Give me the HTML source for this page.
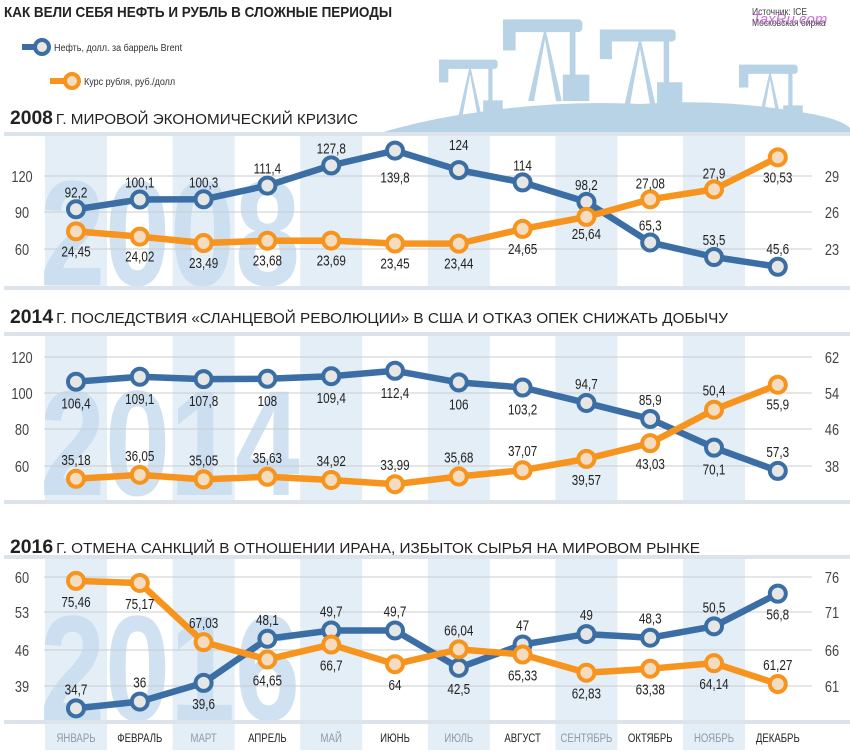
<!DOCTYPE html>
<html><head><meta charset="utf-8"><style>
body{margin:0;background:#fff;}
svg{display:block;font-family:"Liberation Sans",sans-serif;}
</style></head><body>
<svg id="s" width="850" height="756" viewBox="0 0 850 756" xmlns="http://www.w3.org/2000/svg"></svg>
<script>
const S=document.getElementById('s');let h='';
const X=i=>76+i*63.8;
function T(x,y,txt,size,fill,anchor,sx,extra){return `<text transform="translate(${x},${y}) scale(${sx},1)" font-size="${size}" fill="${fill}" text-anchor="${anchor}" ${extra||''}>${txt}</text>`}
h+='<path d="M380 133 Q430 118 480 112 Q560 100 640 104 Q720 98 800 112 Q840 118 850 128 L850 133Z" fill="#b9d3e6"/>';
function der(x,y,s){return `<g transform="translate(${x},${y}) scale(${s})" fill="#b9d3e6" stroke="#b9d3e6"><rect x="-30" y="0" width="62" height="10" rx="3"/><rect x="-36" y="0" width="10" height="26"/><polygon points="0,8 -14,70 -10,70 0,14 10,70 14,70" /><rect x="22" y="10" width="4" height="40"/><rect x="16" y="48" width="22" height="22"/></g>`}
h+=der(470,60,0.85)+der(545,20,1.15)+der(640,30,1.1)+der(770,65,0.85);
function col(y1,y2){let r='';for(let i=0;i<12;i+=2)r+=`<rect x="${X(i)-31}" y="${y1}" width="62" height="${y2-y1}" fill="#e4eef6"/>`;return r;}
h+=col(136,290)+col(336,502)+col(558,750);
function yr(t,y){return `<text x="40" y="${y}" font-size="150" font-weight="bold" fill="#c8ddef" opacity="0.85" textLength="260" lengthAdjust="spacingAndGlyphs">${t}</text>`}
h+=yr('2008',285)+yr('2014',495)+yr('2016',720);
h+='<text x="4" y="17" font-size="15" font-weight="bold" fill="#222" textLength="388" lengthAdjust="spacingAndGlyphs">КАК ВЕЛИ СЕБЯ НЕФТЬ И РУБЛЬ В СЛОЖНЫЕ ПЕРИОДЫ</text>';
h+=T(752,15,'Источник: ICE',10,'#444','start',0.85)+T(752,26,'Московская биржа',10,'#444','start',0.85);
h+='<text x="752" y="24" font-size="15" fill="#c050d0" opacity="0.8" font-style="italic">TaxRu.com</text>';
h+='<line x1="22" y1="47" x2="40" y2="47" stroke="#3a6ea5" stroke-width="6"/><circle cx="42" cy="47" r="7" fill="#ece6de" stroke="#3a6ea5" stroke-width="4"/>'+T(54,51,'Нефть, долл. за баррель Brent',10,'#333','start',0.9);
h+='<line x1="50" y1="81" x2="70" y2="81" stroke="#f7941d" stroke-width="6"/><circle cx="72" cy="81" r="7" fill="#f3dcbf" stroke="#f7941d" stroke-width="4"/>'+T(84,85,'Курс рубля, руб./долл',10,'#333','start',0.9);
function title(y,a,b,w){return `<text x="10" y="${y}" font-size="19" font-weight="bold" fill="#222" textLength="${w}" lengthAdjust="spacingAndGlyphs">${a}<tspan font-size="15" font-weight="normal" dx="3">${b}</tspan></text>`}
h+=title(124,'2008','Г. МИРОВОЙ ЭКОНОМИЧЕСКИЙ КРИЗИС',348);
h+=title(323,'2014','Г. ПОСЛЕДСТВИЯ «СЛАНЦЕВОЙ РЕВОЛЮЦИИ» В США И ОТКАЗ ОПЕК СНИЖАТЬ ДОБЫЧУ',718);
h+=title(553,'2016','Г. ОТМЕНА САНКЦИЙ В ОТНОШЕНИИ ИРАНА, ИЗБЫТОК СЫРЬЯ НА МИРОВОМ РЫНКЕ',690);
const hl=y=>`<rect x="4" y="${y-2}" width="846" height="4" fill="#dde3ea"/>`;
h+=hl(134)+hl(288)+hl(334)+hl(502)+hl(557)+hl(722);
function grid(ys,ll,rl){let r='';ys.forEach((y,i)=>{r+=`<line x1="44" y1="${y}" x2="812" y2="${y}" stroke="#c9ccd0" stroke-width="1"/>`;r+=T(22,y+6,ll[i],16,'#444','middle',0.8)+T(832,y+6,rl[i],16,'#444','middle',0.8)});return r;}
h+=grid([176,212,249],[120,90,60],[29,26,23]);
h+=grid([357,393,429,466],[120,100,80,60],[62,54,46,38]);
h+=grid([577,612,650,686],[60,53,46,39],[76,71,66,61]);
function series(vals,f,c,fill){let p=vals.map((v,i)=>[X(i),f(v)]);let r=`<polyline points="${p.map(q=>q.join(',')).join(' ')}" fill="none" stroke="${c}" stroke-width="6.5" stroke-linejoin="round"/>`;
p.forEach(q=>{r+=`<circle cx="${q[0]}" cy="${q[1]}" r="8" fill="${fill}" stroke="${c}" stroke-width="4"/>`});return [r,p];}
function labels(vals,p,offs){let r='';vals.forEach((v,i)=>{r+=T(p[i][0],p[i][1]+offs[i]+6,String(v).replace('.',','),15,'#222','middle',0.78)});return r;}
const B='#3a6ea5',O='#f7941d',BF='#e6e6e4',OF='#f3dcbf';
let sets=[
 [[92.2,100.1,100.3,111.4,127.8,139.8,124,114,98.2,65.3,53.5,45.6],v=>249-(v-60)*37/30,[-18,-18,-18,-18,-18,26,-26,-18,-18,-18,-18,-19],
  [24.45,24.02,23.49,23.68,23.69,23.45,23.44,24.65,25.64,27.08,27.9,30.53],v=>249-(v-23)*12.17,[19,19,19,19,19,19,19,19,16,-17,-17,19]],
 [[106.4,109.1,107.8,108,109.4,112.4,106,103.2,94.7,85.9,70.1,57.3],v=>466-(v-60)*1.817,[21,21,21,21,21,21,21,21,-20,-20,21,-20],
  [35.18,36.05,35.05,35.63,34.92,33.99,35.68,37.07,39.57,43.03,50.4,55.9],v=>466-(v-38)*4.54,[-20,-20,-20,-20,-20,-20,-20,-20,20,20,-20,19]],
 [[34.7,36,39.6,48.1,49.7,49.7,42.5,47,49,48.3,50.5,56.8],v=>686-(v-39)*5.19,[-20,-20,20,-20,-20,-20,20,-20,-20,-20,-20,20],
  [75.46,75.17,67.03,64.65,66.7,64,66.04,65.33,62.83,63.38,64.14,61.27],v=>686-(v-61)*7.27,[20,20,-20,20,20,20,-20,20,20,20,20,-20]]
];
sets.forEach(s=>{let a=series(s[0],s[1],B,BF),b=series(s[3],s[4],O,OF);h+=a[0]+b[0]+labels(s[0],a[1],s[2])+labels(s[3],b[1],s[5]);});
const M=['ЯНВАРЬ','ФЕВРАЛЬ','МАРТ','АПРЕЛЬ','МАЙ','ИЮНЬ','ИЮЛЬ','АВГУСТ','СЕНТЯБРЬ','ОКТЯБРЬ','НОЯБРЬ','ДЕКАБРЬ'];
M.forEach((m,i)=>{h+=T(X(i),742,m,12,i%2?'#222':'#8d99a8','middle',0.8)});
S.innerHTML=h;
</script>
</body></html>
